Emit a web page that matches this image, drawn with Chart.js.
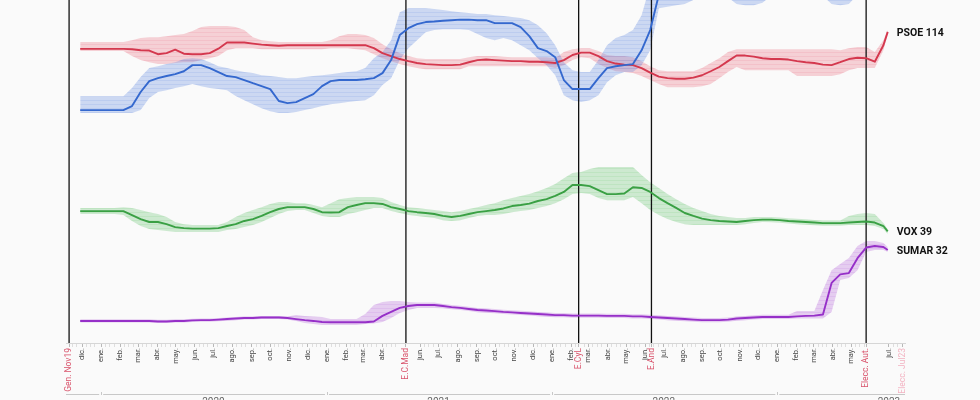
<!DOCTYPE html>
<html><head><meta charset="utf-8">
<script src="https://cdn.jsdelivr.net/npm/chart.js@4.4.1/dist/chart.umd.min.js"></script>
<style>html,body{margin:0;padding:0;background:#fafafa;overflow:hidden}canvas{display:block}</style>
</head><body>
<canvas id="c" width="980" height="400" style="width:980px;height:400px"></canvas>
<script>
// ---- categories (poll-average dates, every two weeks) ----
const dates = ['2019-11-28','2019-12-12','2019-12-26',
'2020-01-09','2020-01-23','2020-02-06','2020-02-20','2020-03-05','2020-03-19','2020-04-02','2020-04-16','2020-04-30','2020-05-14','2020-05-28','2020-06-11','2020-06-25','2020-07-09','2020-07-23','2020-08-06','2020-08-20','2020-09-03','2020-09-17','2020-10-01','2020-10-15','2020-10-29','2020-11-12','2020-11-26','2020-12-10','2020-12-24',
'2021-01-07','2021-01-21','2021-02-04','2021-02-18','2021-03-04','2021-03-18','2021-04-01','2021-04-15','2021-04-29','2021-05-13','2021-05-27','2021-06-10','2021-06-24','2021-07-08','2021-07-22','2021-08-05','2021-08-19','2021-09-02','2021-09-16','2021-09-30','2021-10-14','2021-10-28','2021-11-11','2021-11-25','2021-12-09','2021-12-23',
'2022-01-06','2022-01-20','2022-02-03','2022-02-17','2022-03-03','2022-03-17','2022-03-31','2022-04-14','2022-04-28','2022-05-12','2022-05-26','2022-06-09','2022-06-23','2022-07-07','2022-07-21','2022-08-04','2022-08-18','2022-09-01','2022-09-15','2022-09-29','2022-10-13','2022-10-27','2022-11-10','2022-11-24','2022-12-08','2022-12-22',
'2023-01-05','2023-01-19','2023-02-02','2023-02-16','2023-03-02','2023-03-16','2023-03-30','2023-04-13','2023-04-27','2023-05-11','2023-05-25','2023-06-08','2023-06-22','2023-06-29'];

// ---- seat estimates ----
const ppMid = [84.6,84.6,84.6,84.6,84.6,84.6,86.1,91.4,95.5,96.6,
 97.4,98.1,99.2,101.5,101.5,100.4,98.9,97.4,97.0,95.9,
 94.7,93.6,92.5,88.0,87.2,87.6,89.1,90.6,93.6,95.5,
 95.9,95.9,95.9,96.2,96.6,98.5,103.4,112.8,115.4,116.9,
 117.7,117.9,118.2,118.4,118.6,118.6,118.4,118.4,117.3,117.3,
 117.3,115.8,112.4,107.9,106.8,104.5,95.9,92.5,92.5,92.5,
 96.6,100.4,101.1,101.5,101.9,107.1,114.7,128,134,136,
 137,138,139,139,139,139,137,137,137,137,
 140,140,140,140,140,140,140,137,137,137,
 140,140,140,140,140];
const ppHi = [89.8,89.8,89.8,89.8,89.8,89.8,92.9,97.0,100.4,101.1,
 101.9,102.6,103.8,104.1,103.8,102.6,101.1,100.4,99.6,98.9,
 98.5,97.7,97.4,97.0,96.6,96.6,97.0,97.4,97.7,98.1,
 98.5,98.9,99.2,100.4,104.1,106.4,110.9,121.4,122.9,122.9,
 122.9,122.6,122.2,121.8,121.4,121.1,120.7,120.7,120.3,120.0,
 119.6,119.2,118.4,116.5,113.5,109.0,102.6,99.6,98.9,98.9,
 103.4,109.0,111.7,112.8,114.7,120.3,131.6,136,142,144,
 145,146,147,147,147,147,145,145,145,145,
 148,148,148,148,148,148,148,145,145,145,
 148,148,148,148,148];
const ppLo = [83.5,83.5,83.5,83.5,83.5,83.5,83.5,84.6,89.1,91.4,
 92.1,92.9,93.6,94.4,93.6,92.9,92.5,92.1,89.9,88.3,
 86.8,85.3,84.2,83.5,83.5,83.9,84.6,85.3,86.1,86.8,
 87.2,87.6,88.0,88.3,90.2,94.0,96.6,103.4,107.9,110.9,
 113.9,114.7,115.0,115.0,115.0,114.7,113.2,111.7,110.9,111.7,
 110.9,109.0,107.1,104.1,101.5,97.7,90.2,88.3,87.6,88.3,
 90.2,95.1,97.7,98.9,98.9,101.5,107.1,122.9,123.5,124,
 124.5,126,127,127,127,127,124.5,124,124,125,
 127.5,127.5,127.5,127.5,127.5,127.5,127.5,124.5,124,124.5,
 128,128,128,128,128];

const psoeMid = [107.6,107.6,107.6,107.6,107.6,107.6,107.5,107.1,107.0,105.6,
 106.0,107.3,105.8,105.6,105.6,106.0,107.7,110.0,110.0,110.0,
 109.6,109.2,109.0,108.8,109.0,109.0,109.0,109.0,109.0,109.0,
 109.0,109.0,109.0,109.0,107.9,106.0,104.9,103.8,103.0,102.3,
 101.9,101.7,101.5,101.5,101.7,102.6,103.4,103.6,103.4,103.2,
 103.0,103.0,102.8,102.8,102.6,102.3,103.4,105.3,106.2,106.2,
 104.9,103.0,102.1,101.7,101.5,100.4,98.7,97.2,96.6,96.4,
 96.4,96.8,97.7,99.2,100.8,103.0,105.1,105.1,104.7,104.1,
 103.8,103.8,103.6,103.0,102.6,102.3,101.7,101.5,102.6,103.8,
 104.3,104.1,102.8,109.0,114];
const psoeHi = [110.2,110.2,110.2,110.2,110.2,110.2,110.9,111.7,112.0,112.0,
 112.4,112.8,113.2,114.3,115.8,116.2,116.2,116.2,115.8,114.7,
 112.0,110.9,110.5,110.2,110.2,110.2,110.2,110.2,110.2,110.9,
 112.4,113.2,113.2,112.8,111.7,109.4,107.5,106.0,104.9,104.1,
 103.8,103.8,103.8,103.8,103.8,104.5,104.9,104.9,104.9,104.7,
 104.5,104.5,104.5,104.5,104.5,104.1,106.4,107.5,107.9,107.9,
 106.8,105.3,104.9,104.9,104.5,103.0,101.1,99.6,99.2,99.2,
 99.2,99.2,100.4,102.3,104.1,106.4,107.5,107.5,107.5,107.5,
 107.5,107.5,107.5,107.5,107.5,107.5,107.5,107.5,107.1,107.9,
 108.3,108.3,106.4,110.9,114.7];
const psoeLo = [106.8,106.8,106.8,106.8,106.8,106.8,104.9,103.4,102.6,101.9,
 101.9,102.3,102.6,102.6,103.4,104.1,104.9,107.1,107.9,107.9,
 107.9,107.5,107.5,107.5,107.5,107.5,107.5,107.5,107.5,107.9,
 107.9,107.9,107.5,107.1,105.6,104.1,103.0,101.9,101.1,100.4,
 100.0,100.0,100.0,100.0,100.0,101.1,101.1,101.1,101.1,101.1,
 101.1,101.1,101.1,101.1,101.1,100.4,101.5,103.4,104.5,104.1,
 101.9,100.4,99.2,98.9,98.5,97.4,95.9,94.4,93.2,93.2,
 93.2,93.2,93.6,94.4,96.6,98.9,100.8,99.6,99.6,99.6,
 99.6,99.6,99.6,97.4,97.4,97.4,97.4,97.4,98.1,99.6,
 100.4,100.4,100.4,107.1,113];

const voxMid = [46.6,46.6,46.6,46.6,46.6,46.6,45.1,43.6,42.5,42.5,
 41.7,40.6,40.2,40.0,40.0,40.0,40.2,41.0,41.7,42.9,
 43.6,44.8,46.2,47.4,48.1,48.1,48.1,47.4,46.2,46.1,
 46.2,48.1,48.9,49.6,49.6,49.3,48.1,47.4,46.6,46.2,
 45.9,45.5,44.8,44.4,44.8,45.5,46.2,46.6,47.0,47.6,
 48.5,48.9,49.4,50.4,51.1,52.3,53.8,56.4,56.4,56.0,
 54.5,53.0,53.0,53.2,55.6,55.3,53.8,51.5,49.6,47.8,
 45.9,44.8,43.8,43.2,42.9,42.7,42.5,42.9,43.2,43.4,
 43.4,43.2,42.9,42.7,42.5,42.3,42.1,42.1,42.1,42.3,
 42.5,42.7,42.3,41.0,39];
const voxHi = [47.8,47.8,47.8,47.8,47.8,48.1,47.8,47.0,46.2,45.5,
 44.4,42.5,41.7,41.4,41.4,41.4,41.4,42.5,44.4,45.9,
 47.0,48.1,49.3,50.0,50.0,49.6,49.6,48.9,48.1,49.6,
 51.1,51.5,51.9,51.9,51.9,51.5,50.0,48.9,48.1,47.8,
 47.4,47.0,46.6,46.2,46.6,47.4,48.1,48.9,49.6,50.7,
 51.5,52.3,53.0,54.1,55.3,56.8,59.0,60.9,61.3,62.4,
 63.2,63.2,63.2,63.2,63.2,60.2,57.5,55.3,53.0,51.1,
 49.3,47.8,46.6,45.5,44.8,44.4,44.0,44.0,44.4,44.4,
 44.4,44.2,43.9,43.7,43.5,43.3,43.1,43.1,43.1,44.8,
 45.5,45.9,45.5,42.1,39.8];
const voxLo = [45.5,45.5,45.5,45.5,45.5,45.1,42.9,41.0,39.9,39.5,
 39.1,38.7,38.7,38.7,38.7,38.7,38.7,39.5,39.9,40.6,
 41.4,42.5,44.0,45.5,46.6,47.0,47.0,45.9,44.8,44.4,
 44.4,45.5,46.2,47.0,47.8,47.8,46.6,45.9,45.1,44.8,
 44.4,44.0,43.2,42.9,43.2,44.0,44.8,45.1,45.1,45.5,
 46.2,46.6,47.0,47.8,48.5,49.6,51.1,53.0,53.4,53.0,
 51.5,50.7,50.7,50.7,51.9,49.6,47.0,45.1,43.6,42.5,
 41.7,41.4,41.4,41.4,41.4,41.4,41.4,41.7,42.1,42.5,
 42.4,42.2,41.9,41.7,41.5,41.3,41.1,41.1,41.1,41.4,
 41.4,41.4,41.0,39.9,38.0];

const sumarMid = [5.3,5.3,5.3,5.3,5.3,5.3,5.3,5.3,5.3,5.1,
 5.1,5.3,5.3,5.5,5.6,5.6,5.8,6.0,6.2,6.4,
 6.4,6.6,6.6,6.6,6.4,6.0,5.6,5.3,4.9,4.8,
 4.8,4.8,4.8,4.8,5.1,7.2,8.7,10.2,10.9,11.3,
 11.3,11.3,10.9,10.5,10.2,9.8,9.4,9.2,9.0,8.7,
 8.5,8.3,8.1,7.9,7.7,7.5,7.5,7.3,7.3,7.3,
 7.3,7.2,7.2,7.2,7.0,7.0,6.8,6.6,6.4,6.2,
 6.0,5.8,5.6,5.6,5.6,5.8,6.2,6.4,6.6,6.8,
 6.8,6.8,6.8,7.0,7.2,7.3,7.7,19.6,22.8,23.3,
 28.9,32.9,33.5,33.1,32];
const sumarHi = [5.9,5.9,5.9,5.9,5.9,5.9,5.9,5.9,5.9,5.7,
 5.7,5.9,5.9,6.1,6.2,6.2,6.4,6.6,6.8,7.0,
 7.0,7.2,7.2,7.2,7.0,7.5,7.2,7.0,6.8,6.0,
 6.0,6.0,6.0,7.9,11.3,12.4,12.8,12.8,12.4,12.2,
 12.2,12.2,11.7,11.3,11.0,10.6,10.2,10.0,9.8,9.5,
 9.3,9.1,8.9,8.7,8.5,8.3,8.3,8.1,8.1,8.1,
 8.1,8.0,8.0,8.0,7.8,7.8,7.6,7.4,7.2,7.0,
 6.8,6.6,6.4,6.4,6.4,6.6,7.0,7.2,7.4,7.6,
 7.6,7.6,7.6,9.0,9.0,9.0,16.9,24.4,26.7,29.0,
 33.5,35.4,35.4,34.6,33.1];
const sumarLo = [4.7,4.7,4.7,4.7,4.7,4.7,4.7,4.7,4.7,4.5,
 4.5,4.7,4.7,4.9,5.0,5.0,5.2,5.4,5.6,5.8,
 5.8,6.0,6.0,6.0,5.8,5.3,4.5,4.1,3.9,3.9,
 3.9,3.9,3.9,4.1,4.3,4.9,6.4,8.3,9.4,10.2,
 10.2,10.2,10.1,9.7,9.4,9.0,8.6,8.4,8.2,7.9,
 7.7,7.5,7.3,7.1,6.9,6.7,6.7,6.5,6.5,6.5,
 6.5,6.4,6.4,6.4,6.2,6.2,6.0,5.8,5.6,5.4,
 5.2,5.0,4.8,4.8,4.8,5.0,5.4,5.6,5.8,6.0,
 6.0,6.0,6.0,6.2,6.2,6.2,6.2,8.7,20.7,21.4,
 24.4,31.2,32.0,32.0,31.2];

// ---- elections, month & year labels ----
const electionNames = ['Gen. Nov19','E.C.Mad','E.CyL','E.And','Elecc. Aut.','Elecc. Jul23'];
const electionDates = ['2019-11-10','2021-05-09','2022-02-13','2022-06-11','2023-05-25','2023-07-23'];
const electionHeld  = [true,true,true,true,true,false];
const monthNames = ['ene.','feb.','mar.','abr.','may.','jun.','jul.','ago.','sep.','oct.','nov.','dic.'];
const yearLabels = ['2020','2021','2022','2023'];
const yearStarts = ['2020-01-01','2021-01-01','2022-01-01','2023-01-01'];
const yearMids   = ['2020-07-01','2021-07-01','2022-07-01','2023-07-01'];

const seriesNames = ['PP','PSOE','VOX','SUMAR'];

// ---- helpers ----
const DAY0 = Date.parse('2019-11-10');
const toDay = s => Math.round((Date.parse(s) - DAY0) / 864e5);
const lastDay = toDay(electionDates[electionDates.length - 1]);

const all = {ppMid,ppHi,ppLo,psoeMid,psoeHi,psoeLo,voxMid,voxHi,voxLo,sumarMid,sumarHi,sumarLo};
for (const k in all) if (all[k].length !== dates.length) throw new Error(k + ' has ' + all[k].length + ' values, expected ' + dates.length);

function hatch(r, g, b) {
  const c = document.createElement('canvas'); c.width = 4; c.height = 4;
  const x = c.getContext('2d');
  x.fillStyle = `rgba(${r},${g},${b},0.27)`; x.fillRect(0, 0, 4, 4);
  x.fillStyle = `rgba(${r},${g},${b},0.13)`; x.fillRect(0, 0, 4, 1);
  return x.createPattern(c, 'repeat');
}

const series = [
  {name: seriesNames[0], mid: ppMid,    hi: ppHi,    lo: ppLo,    color: 'rgb(52,104,206)', band: [80,125,220]},
  {name: seriesNames[1], mid: psoeMid,  hi: psoeHi,  lo: psoeLo,  color: 'rgb(212,56,78)',  band: [232,95,115]},
  {name: seriesNames[2], mid: voxMid,   hi: voxHi,   lo: voxLo,   color: 'rgb(58,160,68)',  band: [85,190,95]},
  {name: seriesNames[3], mid: sumarMid, hi: sumarHi, lo: sumarLo, color: 'rgb(150,48,200)', band: [175,85,215]},
];

// ---- ticks ----
const tickText = new Map(), tickKind = new Map();
const elecDays = electionDates.map(toDay);
electionNames.forEach((n, i) => { tickText.set(elecDays[i], n); tickKind.set(elecDays[i], electionHeld[i] ? 'elec' : 'future'); });
for (let y = 2019; y <= 2023; y++) for (let m = 0; m < 12; m++) {
  const d = Math.round((Date.UTC(y, m, 1) - DAY0) / 864e5);
  if (d <= 0 || d > lastDay) continue;
  if (elecDays.some(e => Math.abs(e - d) <= 9)) continue;
  tickText.set(d, monthNames[m]); tickKind.set(d, 'month');
  [8, 15, 22].forEach(dd => {
    const md = Math.round((Date.UTC(y, m, dd) - DAY0) / 864e5);
    if (md > 0 && md < lastDay && !tickKind.has(md) && !elecDays.some(e => Math.abs(e - md) <= 2)) { tickText.set(md, ''); tickKind.set(md, 'minor'); }
  });
}
[8, 15, 22].forEach(dd => { const md = Math.round((Date.UTC(2019, 10, dd) - DAY0) / 864e5); if (md > 2) { tickText.set(md, ''); tickKind.set(md, 'minor'); } });
const tickDays = [...tickText.keys()].sort((a, b) => a - b);

// ---- datasets ----
const datasets = [];
const pts = arr => dates.map((d, i) => ({x: toDay(d), y: arr[i]}));
series.forEach(s => {
  datasets.push({data: pts(s.hi), borderWidth: 0, pointRadius: 0, backgroundColor: hatch(...s.band), fill: '+1', order: 10});
  datasets.push({data: pts(s.lo), borderWidth: 0, pointRadius: 0, fill: false, order: 10});
});
const Y_MIN = -3, Y_MAX = 126;
electionDates.forEach((d, i) => {
  if (!electionHeld[i]) return;
  datasets.push({data: [{x: toDay(d), y: Y_MIN}, {x: toDay(d), y: Y_MAX}], borderColor: '#111', borderWidth: 1.3, pointRadius: 0, fill: false, order: 5});
});
series.forEach(s => {
  s.lineIndex = datasets.length;
  datasets.push({data: pts(s.mid), borderColor: s.color, borderWidth: 1.9, pointRadius: 0, fill: false, order: 1, borderJoinStyle: 'round'});
});

// ---- plugins ----
const endLabels = {
  id: 'endLabels',
  afterDatasetsDraw(chart) {
    const c = chart.ctx, area = chart.chartArea;
    c.save();
    c.font = 'bold 10.5px Roboto'; c.fillStyle = '#111'; c.textBaseline = 'middle'; c.textAlign = 'left';
    series.forEach(s => {
      const meta = chart.getDatasetMeta(s.lineIndex);
      const pt = meta.data[meta.data.length - 1];
      if (pt.y < area.top + 4 || pt.y > area.bottom) return;
      c.fillText(s.name + ' ' + Math.round(s.mid[s.mid.length - 1]), pt.x + 9, pt.y + 1);
    });
    c.restore();
  }
};
const yearBrackets = {
  id: 'yearBrackets',
  afterDraw(chart) {
    const c = chart.ctx, x = chart.scales.x;
    const bounds = yearStarts.map(d => x.getPixelForValue(toDay(d)));
    const edges = [x.left, ...bounds, x.right];
    c.save();
    c.strokeStyle = '#c8c8c8'; c.lineWidth = 1;
    for (let i = 0; i < edges.length - 1; i++) {
      const a = edges[i] + (i > 0 ? 2 : 0), b = edges[i + 1] - (i < edges.length - 2 ? 2 : 0);
      c.beginPath(); c.moveTo(a, 394.5); c.lineTo(b, 394.5); c.stroke();
    }
    bounds.forEach(p => { c.beginPath(); c.moveTo(Math.round(p) + 0.5, 395); c.lineTo(Math.round(p) + 0.5, 392); c.stroke(); });
    c.fillStyle = '#666'; c.font = '10px Roboto'; c.textAlign = 'center'; c.textBaseline = 'top';
    yearLabels.forEach((t, i) => c.fillText(t, x.getPixelForValue(toDay(yearMids[i])), 397.5));
    c.restore();
  }
};

const kindColor = {elec: '#d9536b', future: '#f3b3c2', month: '#444', minor: '#444'};

new Chart(document.getElementById('c'), {
  type: 'line',
  data: {datasets},
  options: {
    responsive: false, animation: false, maintainAspectRatio: false,
    layout: {padding: {left: 66, right: 75, top: 0, bottom: 0}},
    plugins: {legend: {display: false}, tooltip: {enabled: false}},
    scales: {
      x: {
        type: 'linear', min: -5, max: lastDay + 4,
        afterBuildTicks: sc => { sc.ticks = tickDays.map(v => ({value: v})); },
        afterFit: sc => { sc.height = 57; },
        ticks: {
          autoSkip: false, minRotation: 90, maxRotation: 90, padding: 1,
          callback: v => tickText.has(v) ? tickText.get(v) : '',
          color: ctx => kindColor[tickKind.get(ctx.tick && ctx.tick.value)] || '#444',
          font: ctx => {
            const k = tickKind.get(ctx.tick && ctx.tick.value);
            return {family: 'Roboto', size: (k === 'elec' || k === 'future') ? 8.5 : 7.5};
          }
        },
        grid: {
          drawOnChartArea: false, drawTicks: true, tickLength: 4,
          tickColor: ctx => tickKind.get(ctx.tick && ctx.tick.value) === 'minor' ? '#dedede' : '#b8b8b8',
          tickWidth: 1
        },
        border: {display: true, color: '#d6d6d6', width: 1}
      },
      y: {display: false, min: Y_MIN, max: Y_MAX}
    }
  },
  plugins: [endLabels, yearBrackets]
});
</script>
</body></html>
